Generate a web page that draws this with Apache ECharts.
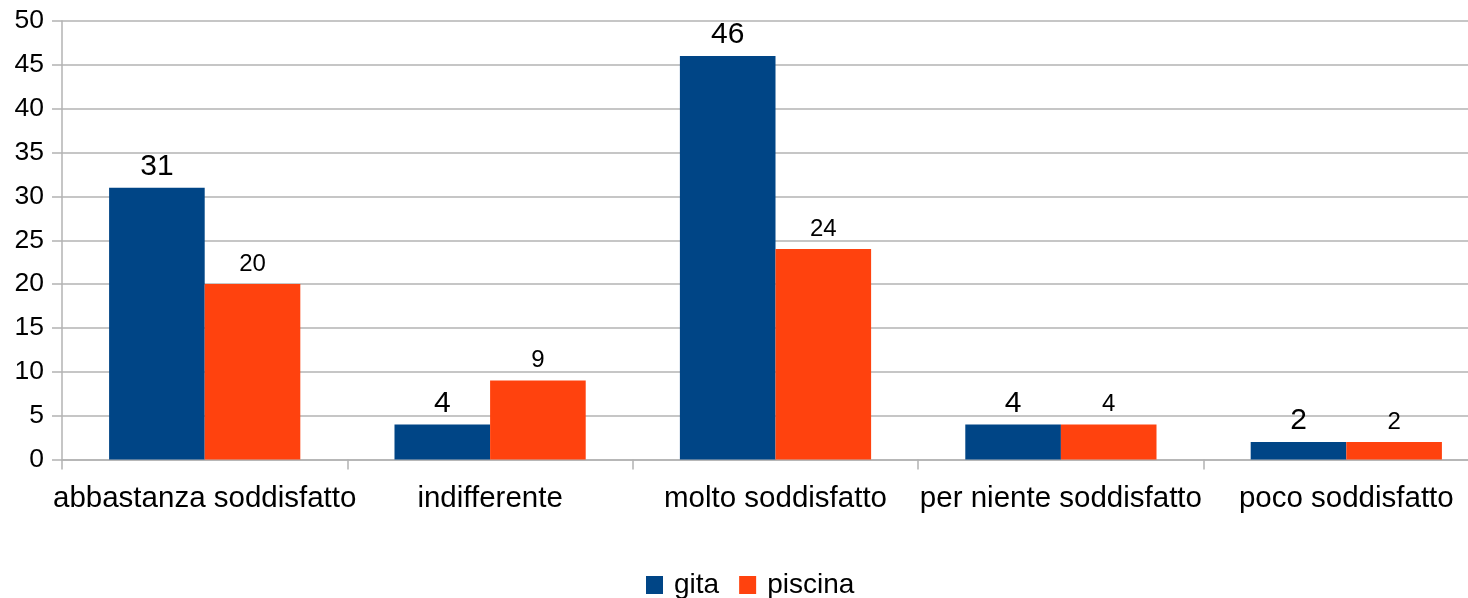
<!DOCTYPE html>
<html><head><meta charset="utf-8">
<script src="https://cdn.jsdelivr.net/npm/echarts@6/dist/echarts.min.js"></script>
<style>html,body{margin:0;padding:0;background:#fff;overflow:hidden;width:1468px;height:598px}#c{width:1490px;height:598px}</style>
</head><body><div id="c"></div>
<script>
const categories = ['abbastanza soddisfatto', 'indifferente', 'molto soddisfatto', 'per niente soddisfatto', 'poco soddisfatto'];
const gita = [31, 4, 46, 4, 2];
const piscina = [20, 9, 24, 4, 2];
const seriesNames = ['gita', 'piscina'];

const FONT = '"Liberation Sans", Arial, sans-serif';
const chart = echarts.init(document.getElementById('c'), null, {renderer: 'canvas'});
chart.setOption({
  animation: false,
  textStyle: {fontFamily: FONT},
  grid: {left: 62, top: 21, width: 1427, bottom: 138.5, containLabel: false},
  legend: {
    data: seriesNames,
    bottom: -6,
    left: 641,
    itemWidth: 17, itemHeight: 18, itemGap: 20,
    icon: 'rect',
    textStyle: {fontSize: 28, color: '#000', fontFamily: FONT, padding: [0, 0, 0, 6]}
  },
  xAxis: {
    type: 'category',
    data: categories,
    axisLine: {lineStyle: {color: '#b3b3b3', width: 1.5}},
    axisTick: {show: true, length: 10, lineStyle: {color: '#b3b3b3', width: 1.5}},
    axisLabel: {fontSize: 29.5, color: '#000', margin: 24, fontFamily: FONT, interval: 0}
  },
  yAxis: {
    type: 'value', min: 0, max: 50, interval: 5,
    axisLine: {show: true, lineStyle: {color: '#b3b3b3', width: 1.5}},
    axisTick: {show: true, length: 10, lineStyle: {color: '#b3b3b3', width: 1.5}},
    splitLine: {lineStyle: {color: '#b3b3b3', width: 1.5}},
    axisLabel: {fontSize: 26.5, color: '#000', margin: 18, fontFamily: FONT}
  },
  series: [
    {name: seriesNames[0], type: 'bar', data: gita, barGap: '0%', barCategoryGap: '33%',
     itemStyle: {color: '#004586'},
     label: {show: true, position: 'top', distance: 6, fontSize: 30, color: '#000', fontFamily: FONT}},
    {name: seriesNames[1], type: 'bar', data: piscina, barGap: '0%', barCategoryGap: '33%',
     itemStyle: {color: '#ff420e'},
     label: {show: true, position: 'top', distance: 8, fontSize: 24, color: '#000', fontFamily: FONT}}
  ]
});
</script></body></html>
